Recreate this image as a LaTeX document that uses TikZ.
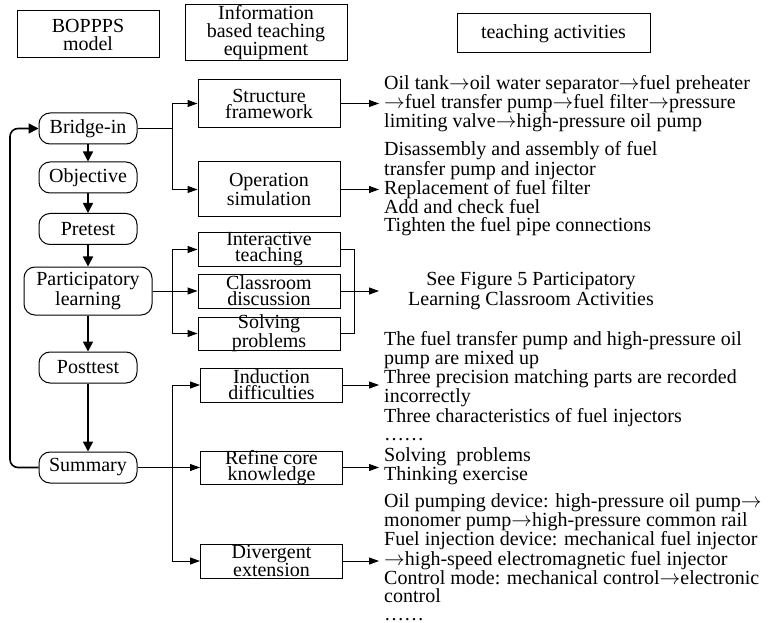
\documentclass[tikz,border=0pt]{standalone}
\usepackage{fontspec}
\setmainfont{Liberation Serif}
\usetikzlibrary{arrows.meta}

\newcommand{\fw}{\ensuremath{\rightarrow}}

\tikzset{
  link/.style={line width=1pt,-{Triangle[length=10pt,width=7pt]}},
  flow/.style={line width=1.6pt,-{Triangle[length=10pt,width=10pt]}},
}

\begin{document}
\begin{tikzpicture}[x=1pt,y=-1pt,font=\fontsize{20}{18}\selectfont]

      \useasboundingbox (0,0) rectangle (780,623);

      \begin{scope}[every node/.style={draw,line width=1pt,inner xsep=0pt,inner ysep=-3pt,align=center}]
        \node[minimum width=142pt,minimum height=47pt] (h1) at (88,34.5)  {BOPPPS\\model};
        \node[minimum width=162pt,minimum height=56pt] (h2) at (266,33)   {Information\\based teaching\\equipment};
        \node[minimum width=193pt,minimum height=39pt] (h3) at (553.5,33.5) {teaching activities};
      \end{scope}

      \begin{scope}[every node/.style={draw,rounded corners=11pt,line width=1pt,minimum width=98pt,minimum height=31pt,inner sep=0pt,align=center}]
        \node (bridge)    at (88,128.5) {Bridge-in};
        \node (objective) at (88,177.5) {Objective};
        \node (pretest)   at (88,229)   {Pretest};
        \node[minimum width=128pt,minimum height=48pt] (partic) at (88,291) {Participatory\\learning};
        \node (posttest)  at (88,367.5) {Posttest};
        \node (summary)   at (88,467.5) {Summary};
      \end{scope}

      \begin{scope}[every node/.style={draw,line width=1pt,minimum width=142pt,inner xsep=0pt,inner ysep=-3pt,align=center,font=\fontsize{20}{16}\selectfont}]
        \node[minimum height=48pt] (struct)  at (269,103.5) {Structure\\framework};
        \node[minimum height=55pt] (oper)    at (269,189.5) {Operation\\simulation};
        \node[minimum height=33pt] (inter)   at (269,249.5) {Interactive\\teaching};
        \node[minimum height=34pt] (discuss) at (269,291)   {Classroom\\discussion};
        \node[minimum height=33pt] (solve)   at (269,333.5) {Solving\\problems};
        \node[minimum height=34pt] (induct)  at (271.5,385) {Induction\\difficulties};
        \node[minimum height=33pt] (refine)  at (271.5,467.5) {Refine core\\knowledge};
        \node[minimum height=34pt] (diverg)  at (271.5,561) {Divergent\\extension};
      \end{scope}

      \begin{scope}[every node/.style={anchor=west,inner sep=0pt,align=left}]
        \node (a1) at (384,103.5) {Oil tank\fw oil water separator\fw fuel preheater\\\fw fuel transfer pump\fw fuel filter\fw pressure\\limiting valve\fw high-pressure oil pump};
        \node (a2) at (384,189) {Disassembly and assembly of fuel\\transfer pump and injector\\Replacement of fuel filter\\Add and check fuel\\Tighten the fuel pipe connections};
        \node[anchor=center,align=center] (a3) at (531,291) {See Figure 5 Participatory\\Learning Classroom Activities};
        \node (a4) at (384,386) {The fuel transfer pump and high-pressure oil\\pump are mixed up\\Three precision matching parts are recorded\\incorrectly\\Three characteristics of fuel injectors\\……};
        \node (a5) at (384,466) {Solving\ \ problems\\Thinking exercise};
        \node (a6) at (384,557) {Oil pumping device: high-pressure oil pump\fw\\monomer pump\fw high-pressure common rail\\Fuel injection device: mechanical fuel injector\\\fw high-speed electromagnetic fuel injector\\Control mode: mechanical control\fw electronic\\control\\……};
      \end{scope}

      \coordinate (j) at (172,0);
      \coordinate (k) at (354,0);
      \coordinate (t) at (379,0);
      \coordinate (l) at (10,0);

      \draw[flow] (bridge) -- (objective);
      \draw[flow] (objective) -- (pretest);
      \draw[flow] (pretest) -- (partic);
      \draw[flow] (partic) -- (posttest);
      \draw[flow] (posttest) -- (summary);
      \draw[flow,rounded corners=8pt] (summary.west) -| (l |- bridge.west) -- (bridge.west);

      \draw[line width=1pt] (bridge.east) -- (j |- bridge.east);
      \draw[link] (j |- bridge.east) |- (struct.west);
      \draw[link] (j |- bridge.east) |- (oper.west);

      \draw[link] (partic.east) -- (discuss.west);
      \draw[link] (j |- partic.east) |- (inter.west);
      \draw[link] (j |- partic.east) |- (solve.west);
      \draw[line width=1pt] (inter.east) -| (k |- solve.east) -- (solve.east);

      \draw[link] (summary.east) -- (refine.west);
      \draw[link] (j |- summary.east) |- (induct.west);
      \draw[link] (j |- summary.east) |- (diverg.west);

      \draw[link] (struct.east)  -- (t |- struct.east);
      \draw[link] (oper.east)    -- (t |- oper.east);
      \draw[link] (discuss.east) -- (t |- discuss.east);
      \draw[link] (induct.east)  -- (t |- induct.east);
      \draw[link] (refine.east)  -- (t |- refine.east);
      \draw[link] (diverg.east)  -- (t |- diverg.east);

    \end{tikzpicture}
\end{document}
